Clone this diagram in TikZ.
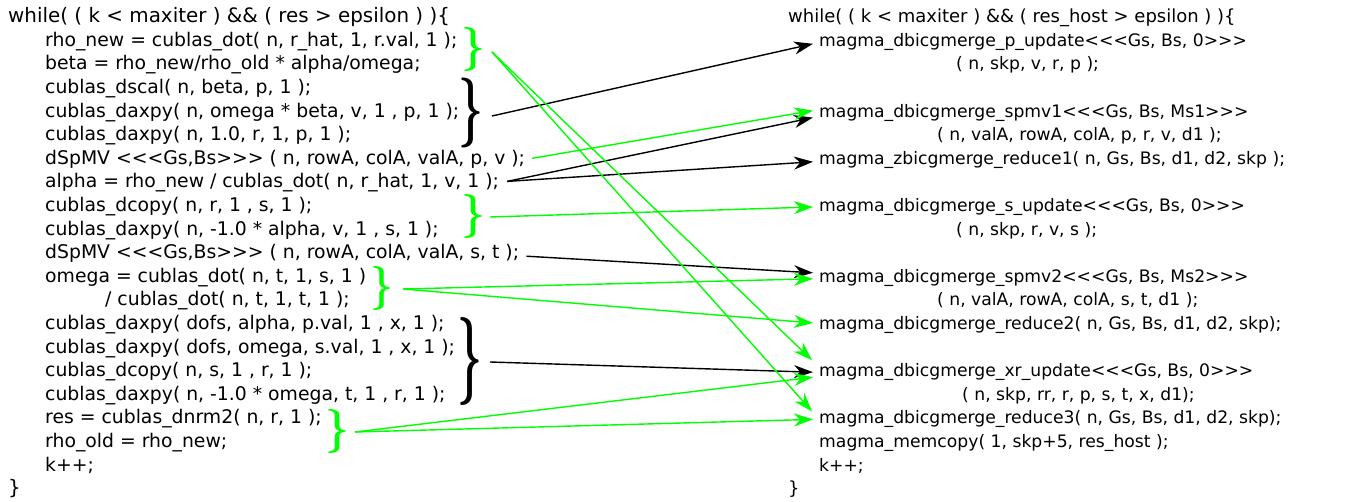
\documentclass[tikz,border=0pt]{standalone}
\usepackage{fontspec}
\usepackage{graphicx}
\usepackage{xcolor}
\usetikzlibrary{arrows.meta}
\newfontfamily\codefont{DejaVu Sans}[Ligatures=ResetAll]

\begin{document}
\begin{tikzpicture}[x=1pt, y=-1pt,
    lcode/.style={anchor=base west, inner sep=0pt, text height=13pt, text depth=4pt,
                  font=\codefont\fontsize{18.8}{22}\selectfont},
    lhead/.style={lcode, font=\codefont\fontsize{19.9}{22}\selectfont},
    rcode/.style={lcode, font=\codefont\fontsize{17.2}{22}\selectfont},
    rhead/.style={lcode, font=\codefont\fontsize{18}{22}\selectfont},
    grp/.style={anchor=east, inner sep=0pt},
    blk/.style={-{Stealth[length=19pt, width=13pt, inset=6pt]}, line width=1.4pt, black},
    grn/.style={blk, green}]
    \useasboundingbox (0,0) rectangle (1351,502);

    % BiCGSTAB loop with cublas calls
    \node[lhead] (l0) at (8, 22.7) {while( ( k < maxiter ) \&\& ( res > epsilon ) )\{};
    \node[lcode] (l1) at (45, 46.3) {rho\_new = cublas\_dot( n, r\_hat, 1, r.val, 1 );};
    \node[lcode] (l2) at (45, 69.9) {beta = rho\_new/rho\_old * alpha/omega;};
    \node[lcode] (l3) at (45, 93.5) {cublas\_dscal( n, beta, p, 1 );};
    \node[lcode] (l4) at (45, 117.1) {cublas\_daxpy( n, omega * beta, v, 1 , p, 1 );};
    \node[lcode] (l5) at (45, 140.7) {cublas\_daxpy( n, 1.0, r, 1, p, 1 );};
    \node[lcode] (l6) at (45, 164.3) {dSpMV <<<Gs,Bs>>> ( n, rowA, colA, valA, p, v );};
    \node[lcode] (l7) at (45, 187.9) {alpha = rho\_new / cublas\_dot( n, r\_hat, 1, v, 1 );};
    \node[lcode] (l8) at (45, 211.5) {cublas\_dcopy( n, r, 1 , s, 1 );};
    \node[lcode] (l9) at (45, 235.1) {cublas\_daxpy( n, -1.0 * alpha, v, 1 , s, 1 );};
    \node[lcode] (l10) at (45, 258.7) {dSpMV <<<Gs,Bs>>> ( n, rowA, colA, valA, s, t );};
    \node[lcode] (l11) at (45, 282.3) {omega = cublas\_dot( n, t, 1, s, 1 )};
    \node[lcode] (l12) at (105, 305.9) {/ cublas\_dot( n, t, 1, t, 1 );};
    \node[lcode] (l13) at (45, 329.5) {cublas\_daxpy( dofs, alpha, p.val, 1 , x, 1 );};
    \node[lcode] (l14) at (45, 353.1) {cublas\_daxpy( dofs, omega, s.val, 1 , x, 1 );};
    \node[lcode] (l15) at (45, 376.7) {cublas\_dcopy( n, s, 1 , r, 1 );};
    \node[lcode] (l16) at (45, 400.3) {cublas\_daxpy( n, -1.0 * omega, t, 1 , r, 1 );};
    \node[lcode] (l17) at (45, 423.9) {res = cublas\_dnrm2( n, r, 1 );};
    \node[lcode] (l18) at (45, 447.5) {rho\_old = rho\_new;};
    \node[lcode] (l19) at (45, 471.1) {k++;};
    \node[lhead] (l20) at (8, 494.7) {\}};

    % merged kernels
    \node[rhead] (r0) at (788, 22.7) {while( ( k < maxiter ) \&\& ( res\_host > epsilon ) )\{};
    \node[rcode] (r1) at (819, 46.3) {magma\_dbicgmerge\_p\_update<<<Gs, Bs, 0>>>};
    \node[rcode] (r2) at (956, 69.9) {( n, skp, v, r, p );};
    \node[rcode] (r4) at (819, 117.1) {magma\_dbicgmerge\_spmv1<<<Gs, Bs, Ms1>>>};
    \node[rcode] (r5) at (937, 140.7) {( n, valA, rowA, colA, p, r, v, d1 );};
    \node[rcode] (r6) at (819, 164.3) {magma\_zbicgmerge\_reduce1( n, Gs, Bs, d1, d2, skp );};
    \node[rcode] (r8) at (819, 211.5) {magma\_dbicgmerge\_s\_update<<<Gs, Bs, 0>>>};
    \node[rcode] (r9) at (956, 235.1) {( n, skp, r, v, s );};
    \node[rcode] (r11) at (819, 282.3) {magma\_dbicgmerge\_spmv2<<<Gs, Bs, Ms2>>>};
    \node[rcode] (r12) at (937, 305.9) {( n, valA, rowA, colA, s, t, d1 );};
    \node[rcode] (r13) at (819, 329.5) {magma\_dbicgmerge\_reduce2( n, Gs, Bs, d1, d2, skp);};
    \node[rcode] (r15) at (819, 376.7) {magma\_dbicgmerge\_xr\_update<<<Gs, Bs, 0>>>};
    \node[rcode] (r16) at (962, 400.3) {( n, skp, rr, r, p, s, t, x, d1);};
    \node[rcode] (r17) at (819, 423.9) {magma\_dbicgmerge\_reduce3( n, Gs, Bs, d1, d2, skp);};
    \node[rcode] (r18) at (819, 447.5) {magma\_memcopy( 1, skp+5, res\_host );};
    \node[rcode] (r19) at (819, 471.1) {k++;};
    \node[rhead] (r20) at (788, 494.7) {\}};

    % braces
    \node[grp, green] (g1) at (486, 50) {\resizebox*{24pt}{44pt}{\boldmath$\}$}};
    \node[grp] (b2) at (484, 113) {\resizebox*{25pt}{70pt}{\boldmath$\}$}};
    \node[grp, green] (g3) at (486, 217) {\resizebox*{24pt}{44pt}{\boldmath$\}$}};
    \node[grp, green] (g4) at (394, 289) {\resizebox*{23pt}{44pt}{\boldmath$\}$}};
    \node[grp] (b5) at (483, 361) {\resizebox*{25pt}{88pt}{\boldmath$\}$}};
    \node[grp, green] (g6) at (350, 431) {\resizebox*{24pt}{44pt}{\boldmath$\}$}};

    \draw   ([shift={(8,3)}]b2.east) edge[blk] ([shift={(-6,2)}]r1.west)
            ([shift={(8,-2)}]l7.east) edge[blk] ([shift={(-6,5)}]r4.west)
            ([shift={(8,-2)}]l7.east) edge[blk] ([shift={(-6,2)}]r6.west)
            ([shift={(7,2)}]l10.east) edge[blk] ([shift={(-6,-5)}]r11.west)
            ([shift={(7,1)}]b5.east) edge[blk] ([shift={(-6,0)}]r15.west)
            ;
    \draw   ([shift={(6,2)}]g1.east) edge[grn] ([shift={(-7,-12)}]r15.west)
            ([shift={(6,2)}]g1.east) edge[grn] ([shift={(-7,-8)}]r17.west)
            ([shift={(7,-1.5)}]l6.east) edge[grn] ([shift={(-6,-2)}]r4.west)
            ([shift={(4,0)}]g3.east) edge[grn] ([shift={(-6,0)}]r8.west)
            ([shift={(9,0)}]g4.east) edge[grn] ([shift={(-6,1)}]r11.west)
            ([shift={(9,0)}]g4.east) edge[grn] ([shift={(-6,-2)}]r13.west)
            ([shift={(5,1)}]g6.east) edge[grn] ([shift={(-6,5)}]r15.west)
            ([shift={(5,1)}]g6.east) edge[grn] ([shift={(-6,0)}]r17.west)
            ;
\end{tikzpicture}
\end{document}
